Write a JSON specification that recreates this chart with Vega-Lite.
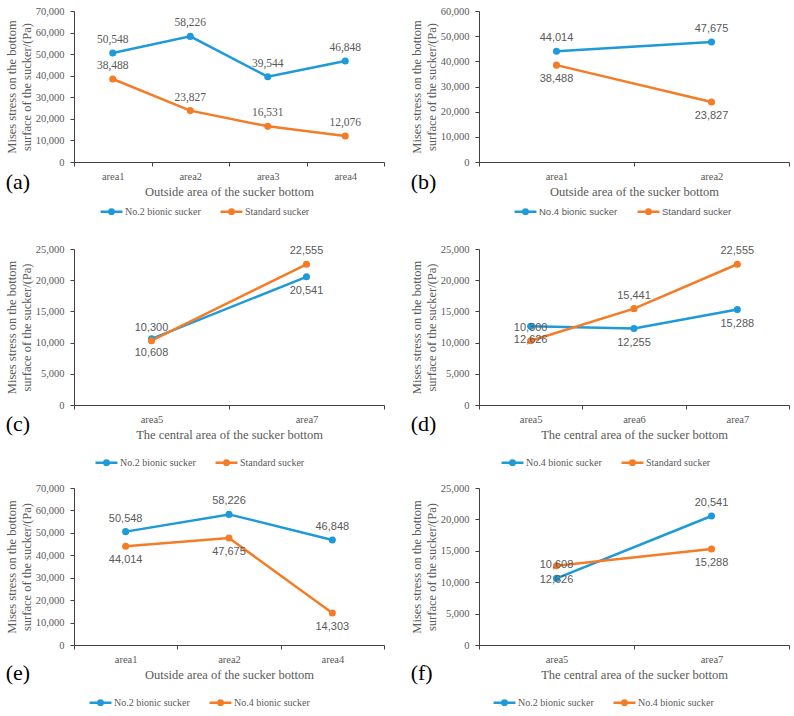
{
  "$schema": "https://vega.github.io/schema/vega-lite/v6.json",
  "background": "white",
  "padding": {"left": 5, "top": 6, "right": 0, "bottom": 0},
  "config": {
    "view": {"stroke": null},
    "axis": {
      "labelFont": "Liberation Serif", "titleFont": "Liberation Serif",
      "labelColor": "#595959", "titleColor": "#595959",
      "domainColor": "#404040", "tickColor": "#404040",
      "grid": false, "titleFontWeight": "normal",
      "labelFontSize": 10.5, "titleFontSize": 12.5
    },
    "legend": {
      "labelFont": "Liberation Serif", "labelFontSize": 10, "labelColor": "#595959",
      "symbolType": "M-1,0L1,0M-0.2,0A0.2,0.2 0 1,0 0.2,0A0.2,0.2 0 1,0 -0.2,0M-0.08,0A0.08,0.08 0 1,0 0.08,0A0.08,0.08 0 1,0 -0.08,0",
      "symbolSize": 480, "symbolStrokeWidth": 2.5, "columnPadding": 14, "labelOffset": 1
    },
    "title": {"font": "Liberation Serif", "fontSize": 22, "fontWeight": "normal", "color": "#000000"}
  },
  "datasets": {
    "d": [
      {"panel": "a", "area": "area1", "series": "No.2 bionic sucker", "value": 50548},
      {"panel": "a", "area": "area2", "series": "No.2 bionic sucker", "value": 58226},
      {"panel": "a", "area": "area3", "series": "No.2 bionic sucker", "value": 39544},
      {"panel": "a", "area": "area4", "series": "No.2 bionic sucker", "value": 46848},
      {"panel": "a", "area": "area1", "series": "Standard sucker", "value": 38488},
      {"panel": "a", "area": "area2", "series": "Standard sucker", "value": 23827},
      {"panel": "a", "area": "area3", "series": "Standard sucker", "value": 16531},
      {"panel": "a", "area": "area4", "series": "Standard sucker", "value": 12076},
      {"panel": "b", "area": "area1", "series": "No.4 bionic sucker", "value": 44014},
      {"panel": "b", "area": "area2", "series": "No.4 bionic sucker", "value": 47675},
      {"panel": "b", "area": "area1", "series": "Standard sucker", "value": 38488},
      {"panel": "b", "area": "area2", "series": "Standard sucker", "value": 23827},
      {"panel": "c", "area": "area5", "series": "No.2 bionic sucker", "value": 10608},
      {"panel": "c", "area": "area7", "series": "No.2 bionic sucker", "value": 20541},
      {"panel": "c", "area": "area5", "series": "Standard sucker", "value": 10300},
      {"panel": "c", "area": "area7", "series": "Standard sucker", "value": 22555},
      {"panel": "d", "area": "area5", "series": "No.4 bionic sucker", "value": 12626},
      {"panel": "d", "area": "area6", "series": "No.4 bionic sucker", "value": 12255},
      {"panel": "d", "area": "area7", "series": "No.4 bionic sucker", "value": 15288},
      {"panel": "d", "area": "area5", "series": "Standard sucker", "value": 10300},
      {"panel": "d", "area": "area6", "series": "Standard sucker", "value": 15441},
      {"panel": "d", "area": "area7", "series": "Standard sucker", "value": 22555},
      {"panel": "e", "area": "area1", "series": "No.2 bionic sucker", "value": 50548},
      {"panel": "e", "area": "area2", "series": "No.2 bionic sucker", "value": 58226},
      {"panel": "e", "area": "area4", "series": "No.2 bionic sucker", "value": 46848},
      {"panel": "e", "area": "area1", "series": "No.4 bionic sucker", "value": 44014},
      {"panel": "e", "area": "area2", "series": "No.4 bionic sucker", "value": 47675},
      {"panel": "e", "area": "area4", "series": "No.4 bionic sucker", "value": 14303},
      {"panel": "f", "area": "area5", "series": "No.2 bionic sucker", "value": 10608},
      {"panel": "f", "area": "area7", "series": "No.2 bionic sucker", "value": 20541},
      {"panel": "f", "area": "area5", "series": "No.4 bionic sucker", "value": 12626},
      {"panel": "f", "area": "area7", "series": "No.4 bionic sucker", "value": 15288}
    ]
  },
  "data": {"name": "d"},
  "spacing": 25,
  "resolve": {"scale": {"color": "independent", "x": "independent", "y": "independent"}},
  "vconcat": [
    {
      "spacing": 25,
      "resolve": {"scale": {"color": "independent", "x": "independent", "y": "independent"}},
      "hconcat": [
        {
          "transform": [{"filter": "datum.panel === 'a'"}],
          "width": 310, "height": 151,
          "title": {"text": "(a)", "orient": "bottom", "anchor": "start", "frame": "bounds", "dy": -51},
          "encoding": {
            "x": {"field": "area", "type": "nominal", "bandPosition": 0.5,
                  "scale": {"type": "band", "paddingInner": 0, "paddingOuter": 0},
                  "axis": {"title": "Outside area of the sucker bottom", "labelAngle": 0, "tickBand": "extent", "tickSize": 4, "labelPadding": 5, "titlePadding": 4}},
            "y": {"field": "value", "type": "quantitative",
                  "scale": {"domain": [0, 70000], "nice": false},
                  "axis": {"values": [0, 10000, 20000, 30000, 40000, 50000, 60000, 70000], "format": ",.0f", "tickSize": 4, "labelPadding": 6, "titlePadding": 2,
                           "title": ["Mises stress  on the bottom", "surface of the sucker/(Pa)"]}},
            "color": {"field": "series", "type": "nominal",
                      "scale": {"domain": ["No.2 bionic sucker", "Standard sucker"], "range": ["#1F9AD8", "#F47C27"]},
                      "legend": {"title": null, "orient": "none", "direction": "horizontal", "legendX": 25, "legendY": 188}}
          },
          "layer": [
            {"mark": {"type": "line", "strokeWidth": 2.5, "point": {"filled": true, "size": 50}}},
            {"transform": [{"filter": "datum.series === 'No.2 bionic sucker'"}],
             "mark": {"type": "text", "dy": -13, "font": "Liberation Serif", "fontSize": 11.5},
             "encoding": {"text": {"field": "value", "format": ",.0f"}, "color": {"value": "#595959"}}},
            {"transform": [{"filter": "datum.series === 'Standard sucker'"}],
             "mark": {"type": "text", "dy": -13, "font": "Liberation Serif", "fontSize": 11.5},
             "encoding": {"text": {"field": "value", "format": ",.0f"}, "color": {"value": "#595959"}}}
          ]
        },
        {
          "transform": [{"filter": "datum.panel === 'b'"}],
          "width": 310, "height": 151,
          "title": {"text": "(b)", "orient": "bottom", "anchor": "start", "frame": "bounds", "dy": -51},
          "encoding": {
            "x": {"field": "area", "type": "nominal", "bandPosition": 0.5,
                  "scale": {"type": "band", "paddingInner": 0, "paddingOuter": 0},
                  "axis": {"title": "Outside area of the sucker bottom", "labelAngle": 0, "tickBand": "extent", "tickSize": 4, "labelPadding": 5, "titlePadding": 4}},
            "y": {"field": "value", "type": "quantitative",
                  "scale": {"domain": [0, 60000], "nice": false},
                  "axis": {"values": [0, 10000, 20000, 30000, 40000, 50000, 60000], "format": ",.0f", "tickSize": 4, "labelPadding": 6, "titlePadding": 2,
                           "title": ["Mises stress  on the bottom", "surface of the sucker/(Pa)"]}},
            "color": {"field": "series", "type": "nominal",
                      "scale": {"domain": ["No.4 bionic sucker", "Standard sucker"], "range": ["#1F9AD8", "#F47C27"]},
                      "legend": {"title": null, "orient": "none", "direction": "horizontal", "legendX": 34, "legendY": 188, "labelFont": "Liberation Sans", "labelFontSize": 9.5}}
          },
          "layer": [
            {"mark": {"type": "line", "strokeWidth": 2.5, "point": {"filled": true, "size": 50}}},
            {"transform": [{"filter": "datum.series === 'No.4 bionic sucker'"}],
             "mark": {"type": "text", "dy": -13, "font": "Liberation Sans", "fontSize": 11},
             "encoding": {"text": {"field": "value", "format": ",.0f"}, "color": {"value": "#595959"}}},
            {"transform": [{"filter": "datum.series === 'Standard sucker'"}],
             "mark": {"type": "text", "dy": 14, "font": "Liberation Sans", "fontSize": 11},
             "encoding": {"text": {"field": "value", "format": ",.0f"}, "color": {"value": "#595959"}}}
          ]
        }
      ]
    },
    {
      "spacing": 13,
      "resolve": {"scale": {"color": "independent", "x": "independent", "y": "independent"}},
      "vconcat": [
        {
          "spacing": 25,
          "resolve": {"scale": {"color": "independent", "x": "independent", "y": "independent"}},
          "hconcat": [
            {
              "transform": [{"filter": "datum.panel === 'c'"}],
              "width": 310, "height": 156,
              "title": {"text": "(c)", "orient": "bottom", "anchor": "start", "frame": "bounds", "dy": -60},
              "encoding": {
                "x": {"field": "area", "type": "nominal", "bandPosition": 0.5,
                      "scale": {"type": "band", "paddingInner": 0, "paddingOuter": 0},
                      "axis": {"title": "The central area of the sucker bottom", "labelAngle": 0, "tickBand": "extent", "tickSize": 4, "labelPadding": 5, "titlePadding": 4}},
                "y": {"field": "value", "type": "quantitative",
                      "scale": {"domain": [0, 25000], "nice": false},
                      "axis": {"values": [0, 5000, 10000, 15000, 20000, 25000], "format": ",.0f", "tickSize": 4, "labelPadding": 6, "titlePadding": 2,
                               "title": ["Mises stress  on the bottom", "surface of the sucker/(Pa)"]}},
                "color": {"field": "series", "type": "nominal",
                          "scale": {"domain": ["No.2 bionic sucker", "Standard sucker"], "range": ["#1F9AD8", "#F47C27"]},
                          "legend": {"title": null, "orient": "none", "direction": "horizontal", "legendX": 20, "legendY": 201}}
              },
              "layer": [
                {"mark": {"type": "line", "strokeWidth": 2.5, "point": {"filled": true, "size": 50}}},
                {"transform": [{"filter": "datum.series === 'No.2 bionic sucker'"}],
                 "mark": {"type": "text", "dy": 14, "font": "Liberation Sans", "fontSize": 11},
                 "encoding": {"text": {"field": "value", "format": ",.0f"}, "color": {"value": "#595959"}}},
                {"transform": [{"filter": "datum.series === 'Standard sucker'"}],
                 "mark": {"type": "text", "dy": -13, "font": "Liberation Sans", "fontSize": 11},
                 "encoding": {"text": {"field": "value", "format": ",.0f"}, "color": {"value": "#595959"}}}
              ]
            },
            {
              "transform": [{"filter": "datum.panel === 'd'"}],
              "width": 310, "height": 156,
              "title": {"text": "(d)", "orient": "bottom", "anchor": "start", "frame": "bounds", "dy": -60},
              "encoding": {
                "x": {"field": "area", "type": "nominal", "bandPosition": 0.5,
                      "scale": {"type": "band", "paddingInner": 0, "paddingOuter": 0},
                      "axis": {"title": "The central area of the sucker bottom", "labelAngle": 0, "tickBand": "extent", "tickSize": 4, "labelPadding": 5, "titlePadding": 4}},
                "y": {"field": "value", "type": "quantitative",
                      "scale": {"domain": [0, 25000], "nice": false},
                      "axis": {"values": [0, 5000, 10000, 15000, 20000, 25000], "format": ",.0f", "tickSize": 4, "labelPadding": 6, "titlePadding": 2,
                               "title": ["Mises stress  on the bottom", "surface of the sucker/(Pa)"]}},
                "color": {"field": "series", "type": "nominal",
                          "scale": {"domain": ["No.4 bionic sucker", "Standard sucker"], "range": ["#1F9AD8", "#F47C27"]},
                          "legend": {"title": null, "orient": "none", "direction": "horizontal", "legendX": 21, "legendY": 201}}
              },
              "layer": [
                {"mark": {"type": "line", "strokeWidth": 2.5, "point": {"filled": true, "size": 50}}},
                {"transform": [{"filter": "datum.series === 'No.4 bionic sucker'"}],
                 "mark": {"type": "text", "dy": 14, "font": "Liberation Sans", "fontSize": 11},
                 "encoding": {"text": {"field": "value", "format": ",.0f"}, "color": {"value": "#595959"}}},
                {"transform": [{"filter": "datum.series === 'Standard sucker'"}],
                 "mark": {"type": "text", "dy": -13, "font": "Liberation Sans", "fontSize": 11},
                 "encoding": {"text": {"field": "value", "format": ",.0f"}, "color": {"value": "#595959"}}}
              ]
            }
          ]
        },
        {
          "spacing": 25,
          "resolve": {"scale": {"color": "independent", "x": "independent", "y": "independent"}},
          "hconcat": [
            {
              "transform": [{"filter": "datum.panel === 'e'"}],
              "width": 310, "height": 157,
              "title": {"text": "(e)", "orient": "bottom", "anchor": "start", "frame": "bounds", "dy": -51},
              "encoding": {
                "x": {"field": "area", "type": "nominal", "bandPosition": 0.5,
                      "scale": {"type": "band", "paddingInner": 0, "paddingOuter": 0},
                      "axis": {"title": "Outside area of the sucker bottom", "labelAngle": 0, "tickBand": "extent", "tickSize": 4, "labelPadding": 5, "titlePadding": 4}},
                "y": {"field": "value", "type": "quantitative",
                      "scale": {"domain": [0, 70000], "nice": false},
                      "axis": {"values": [0, 10000, 20000, 30000, 40000, 50000, 60000, 70000], "format": ",.0f", "tickSize": 4, "labelPadding": 6, "titlePadding": 2,
                               "title": ["Mises stress  on the bottom", "surface of the sucker/(Pa)"]}},
                "color": {"field": "series", "type": "nominal",
                          "scale": {"domain": ["No.2 bionic sucker", "No.4 bionic sucker"], "range": ["#1F9AD8", "#F47C27"]},
                          "legend": {"title": null, "orient": "none", "direction": "horizontal", "legendX": 14, "legendY": 202}}
              },
              "layer": [
                {"mark": {"type": "line", "strokeWidth": 2.5, "point": {"filled": true, "size": 50}}},
                {"transform": [{"filter": "datum.series === 'No.2 bionic sucker'"}],
                 "mark": {"type": "text", "dy": -13, "font": "Liberation Sans", "fontSize": 11},
                 "encoding": {"text": {"field": "value", "format": ",.0f"}, "color": {"value": "#595959"}}},
                {"transform": [{"filter": "datum.series === 'No.4 bionic sucker'"}],
                 "mark": {"type": "text", "dy": 14, "font": "Liberation Sans", "fontSize": 11},
                 "encoding": {"text": {"field": "value", "format": ",.0f"}, "color": {"value": "#595959"}}}
              ]
            },
            {
              "transform": [{"filter": "datum.panel === 'f'"}],
              "width": 310, "height": 157,
              "title": {"text": "(f)", "orient": "bottom", "anchor": "start", "frame": "bounds", "dy": -51},
              "encoding": {
                "x": {"field": "area", "type": "nominal", "bandPosition": 0.5,
                      "scale": {"type": "band", "paddingInner": 0, "paddingOuter": 0},
                      "axis": {"title": "The central area of the sucker bottom", "labelAngle": 0, "tickBand": "extent", "tickSize": 4, "labelPadding": 5, "titlePadding": 4}},
                "y": {"field": "value", "type": "quantitative",
                      "scale": {"domain": [0, 25000], "nice": false},
                      "axis": {"values": [0, 5000, 10000, 15000, 20000, 25000], "format": ",.0f", "tickSize": 4, "labelPadding": 6, "titlePadding": 2,
                               "title": ["Mises stress  on the bottom", "surface of the sucker/(Pa)"]}},
                "color": {"field": "series", "type": "nominal",
                          "scale": {"domain": ["No.2 bionic sucker", "No.4 bionic sucker"], "range": ["#1F9AD8", "#F47C27"]},
                          "legend": {"title": null, "orient": "none", "direction": "horizontal", "legendX": 13, "legendY": 202}}
              },
              "layer": [
                {"mark": {"type": "line", "strokeWidth": 2.5, "point": {"filled": true, "size": 50}}},
                {"transform": [{"filter": "datum.series === 'No.2 bionic sucker'"}],
                 "mark": {"type": "text", "dy": -13, "font": "Liberation Sans", "fontSize": 11},
                 "encoding": {"text": {"field": "value", "format": ",.0f"}, "color": {"value": "#595959"}}},
                {"transform": [{"filter": "datum.series === 'No.4 bionic sucker'"}],
                 "mark": {"type": "text", "dy": 14, "font": "Liberation Sans", "fontSize": 11},
                 "encoding": {"text": {"field": "value", "format": ",.0f"}, "color": {"value": "#595959"}}}
              ]
            }
          ]
        }
      ]
    }
  ]
}
